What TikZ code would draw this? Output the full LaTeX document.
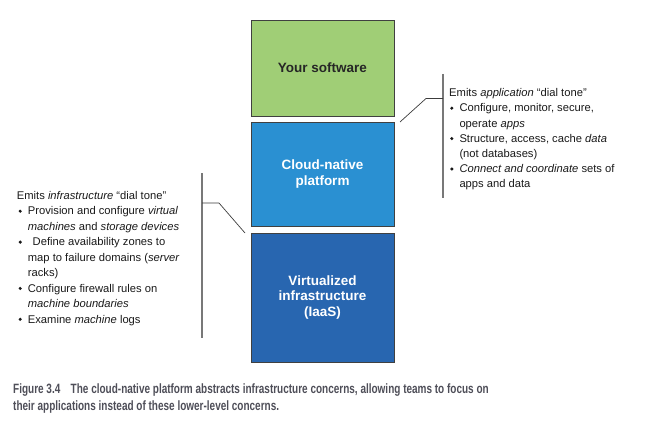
\documentclass[tikz,border=0pt]{standalone}
\usepackage{fontspec}
\setmainfont{Liberation Sans}
\usepackage{graphicx}
\definecolor{swgreen}{RGB}{160,206,118}
\definecolor{cnblue}{RGB}{42,144,210}
\definecolor{iaasblue}{RGB}{40,102,176}
\definecolor{capcol}{RGB}{78,78,88}
\definecolor{bracketgray}{RGB}{120,120,120}
\definecolor{connectgray}{RGB}{60,60,60}
\begin{document}
\begin{tikzpicture}[x=1pt,y=-1pt,
  layer/.style={draw=black!75,line width=0.8pt,minimum width=143pt,inner sep=0pt,align=center,
    font=\fontsize{13.5}{15.5}\selectfont\bfseries},
  bodyline/.style={anchor=base west,inner sep=0pt,font=\fontsize{11.2}{13}\selectfont,text=black!90},
  bul/.style={circle,fill=black!90,inner sep=0pt,minimum size=3.4pt},
  bracket/.style={draw=bracketgray,line width=1.2pt},
  connector/.style={draw=connectgray,line width=0.7pt},
  capline/.style={anchor=base west,inner sep=0pt,text=capcol,font=\fontsize{13.5}{16}\selectfont\bfseries}]
\useasboundingbox (0,0) rectangle (665,428);
% layers
\node[layer,fill=swgreen,minimum height=96pt,text=black!85] (sw) at (322.5,68) {Your software};
\node[layer,fill=cnblue,minimum height=104pt,text=white] (cn) at (322.5,174) {Cloud-native\\platform};
\node[layer,fill=iaasblue,minimum height=129pt,text=white] (ia) at (322.5,297.5) {Virtualized\\infrastructure\\(IaaS)};
% right bracket
\coordinate (rtop) at (443,74);
\coordinate (rbot) at (443,198);
\coordinate (rjoin) at (443,98.5);
\coordinate (rknee) at (426,98.5);
\coordinate (rend) at (400,122);
\draw[bracket] (rtop) -- (rbot);
\draw[connector] (rjoin) -- (rknee) -- (rend);
% left bracket
\coordinate (ltop) at (202,173);
\coordinate (lbot) at (202,338);
\coordinate (ljoin) at (202,203);
\coordinate (lknee) at (219,203);
\coordinate (lend) at (245,233);
\draw[bracket] (ltop) -- (lbot);
\draw[connector] (ljoin) -- (lknee) -- (lend);
% right text
\node[bodyline] (r1) at (449,96.7) {Emits \emph{application} “dial tone”};
\node[bul] (rb1) at (451.8,108.2) {};
\node[bodyline] (r2) at (459.3,111.9) {Configure, monitor, secure,};
\node[bodyline] (r3) at (459.3,127.1) {operate \emph{apps}};
\node[bul] (rb2) at (451.8,138.6) {};
\node[bodyline] (r4) at (459.3,142.3) {Structure, access, cache \emph{data}};
\node[bodyline] (r5) at (459.3,157.5) {(not databases)};
\node[bul] (rb3) at (451.8,169) {};
\node[bodyline] (r6) at (459.3,172.7) {\emph{Connect and coordinate} sets of};
\node[bodyline] (r7) at (459.3,187.9) {apps and data};
% left text
\node[bodyline] (l1) at (16.7,199.5) {Emits \emph{infrastructure} “dial tone”};
\node[bul] (lb1) at (20.2,211.2) {};
\node[bodyline] (l2) at (27.7,214.9) {Provision and configure \emph{virtual}};
\node[bodyline] (l3) at (27.7,230.4) {\emph{machines} and \emph{storage devices}};
\node[bul] (lb2) at (20.2,242.1) {};
\node[bodyline] (l4) at (32.5,245.8) {Define availability zones to};
\node[bodyline] (l5) at (27.7,261.3) {map to failure domains (\emph{server}};
\node[bodyline] (l6) at (27.7,276.7) {racks)};
\node[bul] (lb3) at (20.2,288.4) {};
\node[bodyline] (l7) at (27.7,292.1) {Configure firewall rules on};
\node[bodyline] (l8) at (27.7,307.6) {\emph{machine boundaries}};
\node[bul] (lb4) at (20.2,319.3) {};
\node[bodyline] (l9) at (27.7,323) {Examine \emph{machine} logs};
% caption
\node[capline] (c1) at (13,393) {\scalebox{0.74}[1]{Figure 3.4\hspace{14pt}The cloud-native platform abstracts infrastructure concerns, allowing teams to focus on}};
\node[capline] (c2) at (13,410) {\scalebox{0.74}[1]{their applications instead of these lower-level concerns.}};
\end{tikzpicture}
\end{document}
